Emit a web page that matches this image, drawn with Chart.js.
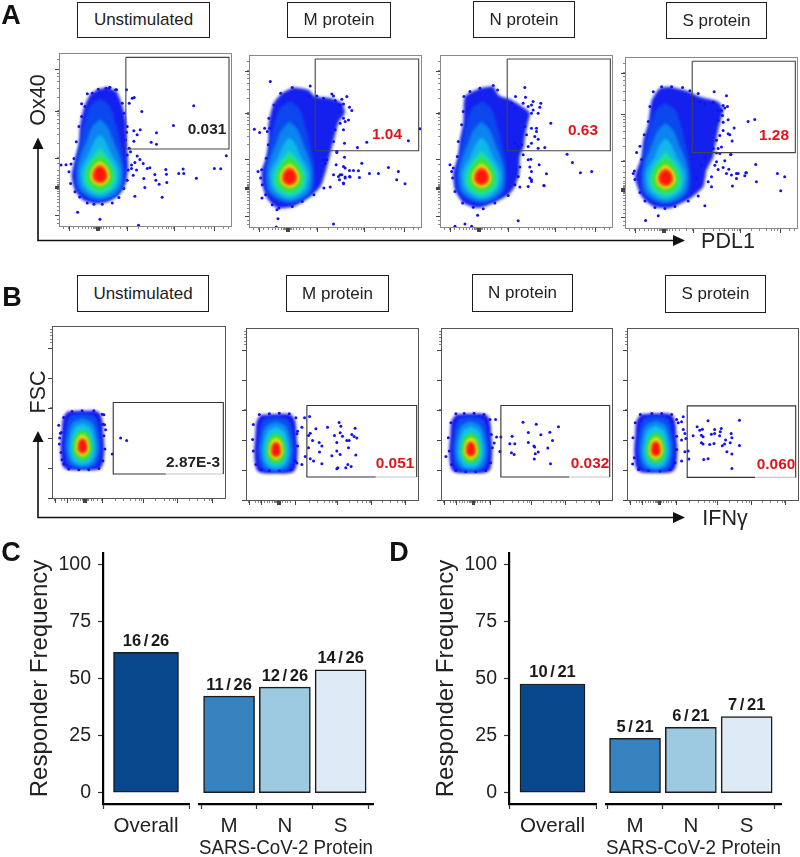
<!DOCTYPE html>
<html><head><meta charset="utf-8">
<script src="https://cdn.jsdelivr.net/npm/chart.js@4"></script>
<style>
html,body{margin:0;padding:0;background:#fff}
#page{position:relative;width:800px;height:857px;overflow:hidden;font-family:"Liberation Sans",Arial,sans-serif;color:#222;filter:blur(0.35px)}
canvas{position:absolute;display:block}
.box{position:absolute;box-sizing:border-box;border:1.5px solid #1c1c1c;display:flex;align-items:center;justify-content:center;font-size:17px;background:#fff;color:#222}
.t{position:absolute;transform:translate(-50%,-50%);white-space:nowrap}
.v{font-weight:bold;font-size:15.4px}
.red{color:#e0141a}
.let{font-weight:bold;font-size:27px;color:#111}
.ax{font-size:21.5px;color:#222}
svg{position:absolute;left:0;top:0}
</style></head>
<body><div id="page">
<svg width="800" height="857">
<g stroke="#111" stroke-width="1.6" fill="none">
<polyline points="38,148 38,240.5 674,240.5"/>
<polyline points="38,441 38,517.5 674,517.5"/>
</g>
<g fill="#111">
<polygon points="38,137.5 32.5,149 43.5,149"/><polygon points="685,240.5 673,235 673,246"/>
<polygon points="38,431 32.5,442 43.5,442"/><polygon points="685,517.5 673,512 673,523"/>
</g>
</svg>
<div class="box" style="left:77px;top:2px;width:133px;height:36px">Unstimulated</div>
<div class="box" style="left:287px;top:2px;width:104px;height:36px">M protein</div>
<div class="box" style="left:473px;top:1px;width:102px;height:37px">N protein</div>
<div class="box" style="left:666px;top:2px;width:101px;height:37px">S protein</div>
<div class="box" style="left:77px;top:275px;width:132px;height:37px">Unstimulated</div>
<div class="box" style="left:286px;top:275px;width:103px;height:37px">M protein</div>
<div class="box" style="left:472px;top:274px;width:101px;height:38px">N protein</div>
<div class="box" style="left:665px;top:275px;width:101px;height:38px">S protein</div>
<div class="t let" style="left:11px;top:15px">A</div>
<div class="t let" style="left:12px;top:297px">B</div>
<div class="t let" style="left:11px;top:552px">C</div>
<div class="t let" style="left:399px;top:552px">D</div>
<div class="t ax" style="left:38px;top:100px;transform:translate(-50%,-50%) rotate(-90deg)">Ox40</div>
<div class="t ax" style="left:38px;top:392px;transform:translate(-50%,-50%) rotate(-90deg)">FSC</div>
<div class="t ax" style="left:728px;top:241px">PDL1</div>
<div class="t ax" style="left:725px;top:518px">IFNγ</div>
</div>
<script>
// ---------- Responder frequency bars ----------
const overallCat = ['Overall'];
const proteinCats = ['M','N','S'];
const yTicksBars = [0,25,50,75,100];
const overallC = [61.5];
const proteinC = [42.3,46.2,53.8];
const overallLabelC = ['16 / 26'];
const proteinLabelC = ['11 / 26','12 / 26','14 / 26'];
const overallD = [47.6];
const proteinD = [23.8,28.6,33.3];
const overallLabelD = ['10 / 21'];
const proteinLabelD = ['5 / 21','6 / 21','7 / 21'];
const overallColor = ['#07478c'];
const proteinColors = ['#3582bf','#9ecae1','#deebf7'];

// ---------- Flow plots: ticks (channel units, 0-520) ----------
const xTicksA = [15,30,45,60,70,80,90,98,104,108,111,113,116,119,121,124,128,134,142,152,165,185,203,240,265,285,300,312,322,330,338,345,380,405,425,440,450,458,467,495,510];
const xMajorA = [30,112,114,116,118,120,203,345,467];
const yTicksA = [10,22,35,48,60,72,82,92,100,106,111,115,118,120,122,125,128,132,138,145,155,170,190,207,250,275,295,310,322,332,340,347,388,415,435,450,460,472,500];
const yMajorA = [35,116,118,120,122,124,207,347,472];
const xTicksB = [8,28,38,45,55,65,72,80,85,90,93,97,101,105,110,118,125,135,148,190,215,235,250,260,268,273,310,335,350,362,370,375,410,435,455,470,477];
const xMajorB = [8,45,93,95,97,99,101,148,273,375,477];
const yTicksB = [3,93,183,275,363,453,470,480,490,500,510];
const yMajorB = [3,93,183,275,363,453];

// ---------- Density contours, relative to the population centre ----------
const coreA = [
 {c:'#0b48ee',p:[[0,225],[28,205],[48,150],[62,90],[74,20],[66,-50],[0,-82],[-66,-50],[-74,20],[-62,90],[-48,150],[-28,205]]},
 {c:'#0c84f0',p:[[0,165],[24,140],[40,100],[60,50],[68,0],[56,-50],[0,-76],[-56,-50],[-68,0],[-60,50],[-40,100],[-24,140]]},
 {c:'#10b8ea',p:[[0,118],[16,100],[34,60],[56,20],[58,-10],[46,-44],[0,-68],[-46,-44],[-58,-10],[-56,20],[-34,60],[-16,100]]},
 {c:'#1ee0a0',p:[[0,78],[14,62],[36,32],[48,0],[40,-36],[0,-58],[-40,-36],[-48,0],[-36,32],[-14,62]]},
 {c:'#40e030',p:[[0,56],[14,46],[30,24],[38,0],[32,-28],[0,-46],[-32,-28],[-38,0],[-30,24],[-14,46]]},
 {c:'#f4ec10',p:[[0,38],[16,26],[28,2],[24,-20],[0,-34],[-24,-20],[-28,2],[-16,26]]},
 {c:'#ff8a10',p:[[0,30],[13,22],[23,2],[20,-18],[0,-29],[-20,-18],[-23,2],[-13,22]]},
 {c:'#ff1408',p:[[0,24],[12,16],[19,0],[16,-15],[0,-24],[-16,-15],[-19,0],[-12,16]]}
];
const coreB = [
 {c:'#1414f0',p:[[-45,105],[0,107],[45,105],[58,85],[62,40],[65,-10],[58,-60],[40,-70],[0,-70],[-40,-70],[-58,-60],[-65,-10],[-62,40],[-58,85]]},
 {c:'#0b4cf0',p:[[0,100],[38,90],[52,40],[55,-10],[42,-58],[0,-68],[-42,-58],[-55,-10],[-52,40],[-38,90]]},
 {c:'#0c8cf0',p:[[0,85],[30,70],[44,25],[46,-15],[32,-52],[0,-62],[-32,-52],[-46,-15],[-44,25],[-30,70]]},
 {c:'#10c4e8',p:[[0,70],[24,55],[36,15],[36,-20],[24,-46],[0,-55],[-24,-46],[-36,-20],[-36,15],[-24,55]]},
 {c:'#40e030',p:[[0,50],[18,38],[28,5],[26,-20],[16,-36],[0,-42],[-16,-36],[-26,-20],[-28,5],[-18,38]]},
 {c:'#f4ec10',p:[[0,36],[13,26],[20,2],[18,-16],[0,-30],[-18,-16],[-20,2],[-13,26]]},
 {c:'#ff1408',p:[[0,25],[10,17],[14,0],[12,-14],[0,-22],[-12,-14],[-14,0],[-10,17]]}
];

// ---------- Panel A populations ----------
const outerA1 = [[148,418],[173,405],[188,370],[201,320],[203,280],[205,230],[208,180],[201,135],[178,95],[143,75],[108,70],[73,80],[48,110],[38,155],[48,200],[61,250],[63,300],[73,350],[93,395],[118,412]];
const dotsA1 = [[203,410],[220,385],[226,387],[211,370],[249,345],[405,362],[344,303],[293,282],[244,291],[225,288],[235,276],[203,283],[277,253],[293,247],[225,256],[211,235],[503,213],[215,225],[235,212],[243,202],[228,193],[218,185],[253,190],[265,175],[273,177],[218,175],[233,170],[223,155],[255,145],[288,157],[321,172],[323,158],[373,173],[360,160],[375,160],[467,175],[486,174],[413,146],[291,140],[301,128],[324,133],[258,118],[228,92],[310,89],[56,44],[123,23],[239,5],[6,185],[21,186],[36,188],[85,398],[68,368],[173,410],[153,418],[141,415]];
const rimA1 = [[60,300],[52,255],[45,205],[30,165],[35,130],[48,105],[62,90],[85,72],[105,68],[130,68],[160,72],[180,88],[195,115],[205,140],[208,170],[205,215],[200,260],[205,300],[195,340],[190,370],[170,410],[150,415],[118,412],[100,400],[78,360],[68,330]];
const outerA2 = [[134,423],[179,415],[199,395],[245,390],[280,375],[288,345],[270,320],[255,265],[245,225],[232,175],[215,125],[184,95],[134,65],[84,60],[54,90],[39,135],[39,175],[54,215],[59,265],[59,315],[74,375],[99,405]];
const dotsA2 = [[64,440],[16,297],[32,287],[47,300],[62,300],[354,258],[326,242],[264,227],[339,195],[419,182],[449,170],[444,145],[389,164],[362,164],[329,172],[314,173],[302,173],[289,180],[274,160],[289,150],[302,155],[284,135],[269,155],[27,170],[39,90],[84,55],[87,28],[254,12],[82,3],[514,298],[479,262],[469,133]];
const rimA2 = [[184,427],[179,395],[204,397],[224,390],[249,403],[254,397],[279,387],[294,395],[302,363],[309,353],[274,370],[284,373],[259,383],[284,330],[299,325],[289,320],[274,315],[284,295],[259,295],[254,260],[287,255],[264,230],[287,213],[234,205],[262,190],[284,185],[279,160],[289,153],[304,153],[332,152],[254,160],[272,145],[284,133],[244,123],[224,205],[229,195],[225,120],[195,100],[160,80],[130,65],[90,60],[70,70],[50,100],[40,130],[35,150],[38,175],[52,210],[58,250],[55,290],[60,330],[75,370],[95,405],[130,422]];
const outerA3 = [[160,427],[178,398],[215,385],[255,360],[270,345],[265,320],[255,275],[252,245],[240,215],[238,165],[225,125],[205,100],[160,75],[115,60],[70,75],[45,115],[40,165],[55,215],[60,265],[70,315],[75,395],[120,420]];
const dotsA3 = [[255,422],[333,315],[315,242],[382,222],[398,197],[422,166],[456,170],[320,163],[298,190],[312,128],[275,145],[235,22],[113,38],[95,5],[75,12],[45,5],[30,190],[35,170]];
const rimA3 = [[173,415],[227,395],[257,393],[280,380],[303,375],[300,363],[275,370],[215,375],[250,375],[265,365],[280,355],[295,345],[275,345],[225,360],[290,300],[290,290],[275,300],[255,305],[285,275],[295,267],[260,280],[275,255],[295,240],[245,250],[265,245],[225,255],[235,245],[250,220],[265,205],[273,207],[270,183],[240,183],[275,170],[235,155],[270,150],[275,140],[313,127],[265,125],[225,130],[240,123],[205,98],[165,75],[130,58],[100,62],[68,75],[45,110],[38,150],[40,180],[52,215],[55,260],[65,310],[70,350],[72,395],[90,410],[120,420],[160,428]];
const outerA4 = [[135,430],[185,418],[225,400],[280,385],[295,360],[282,310],[272,258],[265,218],[245,178],[235,128],[195,92],[135,63],[85,68],[50,98],[30,158],[50,218],[55,268],[70,318],[80,388],[105,426]];
const dotsA4 = [[268,415],[370,325],[390,331],[328,305],[318,225],[393,195],[363,170],[340,168],[360,161],[395,143],[458,168],[480,158],[468,116],[240,70],[100,40],[62,26],[25,168],[35,231]];
const rimA4 = [[173,428],[195,418],[220,410],[305,403],[300,366],[295,373],[308,370],[290,358],[225,383],[240,378],[265,383],[280,358],[293,343],[310,330],[280,328],[295,323],[295,298],[310,288],[315,285],[322,266],[285,283],[275,268],[290,248],[280,243],[265,243],[275,230],[285,228],[318,225],[240,218],[300,206],[275,203],[270,193],[230,193],[295,186],[280,180],[312,181],[335,168],[365,170],[305,168],[320,163],[335,153],[323,130],[260,158],[250,143],[215,153],[260,128],[220,100],[190,85],[150,68],[120,62],[90,65],[60,85],[45,110],[30,150],[28,175],[50,210],[45,250],[58,285],[70,325],[75,370],[85,415],[110,430],[140,430]];

// ---------- Panel B populations ----------
const dotsB1 = [[205,183],[223,176],[180,135],[20,222],[25,198],[23,183],[155,253],[157,223],[160,208],[30,118]];
const rimB1 = [[35,245],[60,263],[90,265],[125,265],[150,255],[152,225],[155,190],[158,150],[152,115],[140,92],[110,88],[80,88],[50,90],[35,105],[27,140],[22,165],[28,200]];
const dotsB2 = [[176,250],[191,254],[168,222],[153,202],[210,217],[245,222],[280,236],[285,225],[328,219],[193,204],[188,197],[266,197],[283,205],[290,195],[318,200],[325,194],[333,189],[273,176],[303,182],[310,182],[200,182],[220,176],[228,165],[188,160],[308,160],[221,147],[273,150],[283,140],[258,136],[330,138],[178,134],[193,127],[203,120],[228,112],[168,110],[153,114],[273,97],[276,100],[300,100],[306,110],[316,104]];
const rimB2 = [[40,260],[70,262],[100,264],[130,262],[150,250],[155,210],[155,165],[148,120],[135,95],[100,92],[70,92],[45,95],[30,110],[22,150],[20,185],[22,230]];
const dotsB3 = [[165,245],[168,192],[181,192],[161,174],[178,149],[15,134],[208,172],[223,172],[215,195],[248,237],[288,231],[264,206],[302,199],[329,207],[355,223],[264,176],[337,182],[323,159],[281,165],[283,162],[294,147],[285,142],[213,145],[221,140],[282,126],[331,112]];
const rimB3 = [[45,262],[70,263],[100,264],[130,260],[148,245],[152,200],[155,160],[150,115],[135,92],[105,88],[75,88],[45,92],[32,110],[25,150],[22,190],[30,235]];
const dotsB4 = [[170,253],[155,235],[165,238],[170,215],[175,203],[165,183],[178,188],[175,148],[185,150],[187,126],[165,120],[17,111],[212,223],[220,213],[228,216],[245,241],[340,243],[265,215],[285,218],[282,208],[265,203],[255,201],[200,196],[225,198],[230,193],[280,196],[315,203],[317,190],[298,183],[225,175],[230,171],[250,170],[263,173],[295,171],[288,166],[312,175],[340,167],[302,148],[317,141],[245,127],[232,125],[317,98]];
const rimB4 = [[40,260],[75,263],[105,263],[135,260],[150,245],[150,195],[150,155],[145,115],[130,95],[100,90],[65,92],[35,95],[22,130],[18,190],[25,235]];

const page = document.getElementById('page');
function addCanvas(l,t,w,h){const c=document.createElement('canvas');c.width=w;c.height=h;c.style.left=l+'px';c.style.top=t+'px';c.style.width=w+'px';c.style.height=h+'px';page.appendChild(c);return c;}
function pts(a){return a.map(p=>({x:p[0],y:p[1]}));}
function closed(a,c){const s=a.map(p=>({x:c[0]+p[0],y:c[1]+p[1]}));s.push(s[0]);return s;}

const blurFills = {
  id:'blurFills',
  beforeDraw(ch){ch.ctx.filter='blur(1.5px)';},
  beforeDatasetsDraw(ch){ch.ctx.filter='none';}
};

function flowPanel(o){
  const [l,t,r,b]=o.frame;
  const c=addCanvas(l-10,t-3,r-l+13,b-t+12);
  const ds=[];
  ds.push({type:'line',data:o.gateOpen?pts(o.gate):closed(o.gate,[0,0]),borderColor:o.gateColor,borderWidth:1.1,pointRadius:0,fill:false,tension:0,order:1});
  if(o.gateLight) ds.push({type:'line',data:pts(o.gateLight),borderColor:'#c8c8c8',borderWidth:1.1,pointRadius:0,fill:false,tension:0,order:1});
  ds.push({type:'scatter',data:pts(o.dots.concat(o.rim)),backgroundColor:'#1212ee',borderWidth:0,pointRadius:1.5,pointHoverRadius:1.5,order:2});
  o.levels.forEach((lv,i)=>{
    ds.push({type:'line',data:closed(lv.p,o.center),borderWidth:0,pointRadius:0,fill:'shape',backgroundColor:lv.c,tension:0.35,order:50-i});
  });
  if(o.outer) ds.push({type:'line',data:closed(o.outer,[0,0]),borderWidth:0,pointRadius:0,fill:'shape',backgroundColor:'#1420ee',tension:0.2,order:60});
  const frameTicks={id:'frameTicks',afterDraw(ch){
    const x=ch.ctx,a=ch.chartArea;
    x.save();x.strokeStyle=o.frameColor;x.lineWidth=1;x.strokeRect(a.left+.5,a.top+.5,a.right-a.left-1,a.bottom-a.top-1);
    x.strokeStyle='#444';x.lineWidth=1;x.beginPath();
    o.xMajor.forEach(v=>{const p=Math.round(ch.scales.x.getPixelForValue(v))+.5;x.moveTo(p,a.bottom);x.lineTo(p,a.bottom+4);});
    o.yMajor.forEach(v=>{const p=Math.round(ch.scales.y.getPixelForValue(v))+.5;x.moveTo(a.left,p);x.lineTo(a.left-4,p);});
    x.stroke();x.restore();
  }};
  const axis=(ticks,dim)=>({type:'linear',min:0,max:520,display:true,
    afterBuildTicks(s){s.ticks=ticks.map(v=>({value:v}));},
    afterFit(s){s[dim]=dim==='height'?9:10;},
    ticks:{display:false,autoSkip:false},border:{display:false,z:1},
    grid:{display:true,drawOnChartArea:false,drawTicks:true,tickLength:2,tickColor:'#888',tickWidth:1,z:1}});
  new Chart(c,{data:{datasets:ds},plugins:[blurFills,frameTicks],options:{responsive:false,animation:false,
    layout:{autoPadding:false,padding:{top:3,right:3,left:0,bottom:0}},
    plugins:{legend:{display:false},tooltip:{enabled:false},filler:{drawTime:'beforeDatasetsDraw',propagate:false}},
    scales:{x:axis(o.xTicks,'height'),y:axis(o.yTicks,'width')}}});
  const v=document.createElement('div');v.className='t v'+(o.red?' red':'');v.textContent=o.label;
  v.style.left=o.labelAt[0]+'px';v.style.top=o.labelAt[1]+'px';page.appendChild(v);
}
const aCommon={levels:coreA,gateColor:'#444',frameColor:'#888',xTicks:xTicksA,yTicks:yTicksA,xMajor:xMajorA,yMajor:yMajorA};
flowPanel({...aCommon,frame:[59,53,232,227],center:[123,158],outer:outerA1,dots:dotsA1,rim:rimA1,gate:[[201,507],[201,233],[511,233],[511,507]],label:'0.031',labelAt:[207,129]});
flowPanel({...aCommon,frame:[249,55,422,228],center:[122,155],outer:outerA2,dots:dotsA2,rim:rimA2,gate:[[199,508],[199,232],[510,232],[510,508]],label:'1.04',labelAt:[387,134],red:true});
flowPanel({...aCommon,frame:[440,55,613,228],center:[125,155],outer:outerA3,dots:dotsA3,rim:rimA3,gate:[[202,508],[202,232],[512,232],[512,508]],label:'0.63',labelAt:[583,130],red:true});
flowPanel({...aCommon,frame:[625,57,798,229],center:[122,156],outer:outerA4,dots:dotsA4,rim:rimA4,gate:[[202,507],[202,231],[512,231],[512,507]],label:'1.28',labelAt:[774,135],red:true});

const bCommon={levels:coreB,gateColor:'#333',frameColor:'#555',xTicks:xTicksB,yTicks:yTicksB,xMajor:xMajorB,yMajor:yMajorB,gateOpen:true};
// the lower right edge of these gates is faint under the label
function flowB(o){
  const [x0,x1,y0,y1,mid]=o.g;
  flowPanel({...bCommon,...o,gate:[[mid,y0],[x0,y0],[x0,y1],[x1,y1],[x1,y0]],gateLight:[[mid,y0],[x1,y0]]});
}
flowB({frame:[52,326,226,499],center:[91,158],dots:dotsB1,rim:rimB1,g:[183,512,75,290,340],label:'2.87E-3',labelAt:[193,462]});
flowB({frame:[246,328,419,501],center:[90,154],dots:dotsB2,rim:rimB2,g:[183,513,72,287,390],label:'0.051',labelAt:[395,463],red:true});
flowB({frame:[441,328,613,501],center:[90,155],dots:dotsB3,rim:rimB3,g:[181,510,72,287,388],label:'0.032',labelAt:[590,463],red:true});
flowB({frame:[627,328,799,501],center:[87,156],dots:dotsB4,rim:rimB4,g:[182,510,71,286,387],label:'0.060',labelAt:[776,464],red:true});

// ---------- Bars ----------
function barLabels(labels){return {id:'barLabels',afterDatasetsDraw(ch){
  const x=ch.ctx;x.save();x.font='bold 16.5px "Liberation Sans",Arial,sans-serif';x.wordSpacing='-2px';x.fillStyle='#1a1a1a';x.textAlign='center';x.textBaseline='alphabetic';
  ch.getDatasetMeta(0).data.forEach((el,i)=>x.fillText(labels[i],el.x,el.y-6.5));x.restore();}};}
const fontTick={family:'"Liberation Sans",Arial,sans-serif',size:20.5};
function noInset(s){s.paddingTop=0;s.paddingBottom=0;s.paddingLeft=0;s.paddingRight=0;}
function yScale(show,titlePad){return {type:'linear',min:-5,max:105,display:show,
  afterBuildTicks(s){s.ticks=yTicksBars.map(v=>({value:v}));},
  afterFit(s){s.width=show?83:0;noInset(s);},
  ticks:{font:{...fontTick,size:19.5},color:'#222',padding:7,autoSkip:false},
  border:{display:true,color:'#000',width:2.2},
  grid:{drawOnChartArea:false,tickLength:5,tickColor:'#333',tickWidth:1.2},
  title:{display:true,text:'Responder Frequency',font:{...fontTick,size:24},color:'#222',padding:{top:titlePad,bottom:0},align:'center'}};}
function xCommon(){return {afterFit(s){s.height=53;noInset(s);},
  ticks:{font:fontTick,color:'#222',padding:5,autoSkip:false,maxRotation:0},
  border:{display:true,color:'#000',width:2.2},
  grid:{drawOnChartArea:false,tickLength:5,tickColor:'#333',tickWidth:1.2}};}
function overallChart(l,w,vals,labs,titlePad){
  const c=addCanvas(l,545,w,312);
  new Chart(c,{type:'bar',data:{labels:overallCat,datasets:[{data:vals,backgroundColor:overallColor,borderColor:'#1c1c1c',borderWidth:1.5,barThickness:65,borderSkipped:false}]},
    plugins:[barLabels(labs)],
    options:{responsive:false,animation:false,layout:{autoPadding:false,padding:{top:8,right:1,left:0,bottom:0}},
      plugins:{legend:{display:false},tooltip:{enabled:false}},
      scales:{x:{...xCommon(),type:'category'},y:yScale(true,titlePad)}}});
}
function proteinChart(l,w,pl,pr,vals,labs,xmin,xmax){
  const c=addCanvas(l,545,w,312);
  new Chart(c,{type:'bar',data:{labels:proteinCats,datasets:[{data:vals.map((v,i)=>({x:i+1,y:v})),backgroundColor:proteinColors,borderColor:'#1c1c1c',borderWidth:1.5,barThickness:51,borderSkipped:false}]},
    plugins:[barLabels(labs)],
    options:{responsive:false,animation:false,layout:{autoPadding:false,padding:{top:8,right:pr,left:pl,bottom:0}},
      plugins:{legend:{display:false},tooltip:{enabled:false}},
      scales:{x:{...xCommon(),type:'linear',min:xmin,max:xmax,offset:false,
          afterBuildTicks(s){s.ticks=proteinCats.map((n,i)=>({value:i+1}));},
          ticks:{...xCommon().ticks,callback:v=>proteinCats[v-1]},
          title:{display:true,text:'SARS-CoV-2 Protein',font:{...fontTick,size:20,lineHeight:0.85},color:'#222',padding:{top:0,bottom:0}}},
        y:{...yScale(false,0),display:false,title:{display:false}}}}});
}
overallChart(20,170,overallC,overallLabelC,6);
proteinChart(185,210,14,22,proteinC,proteinLabelC,0.461,3.58);
overallChart(426,171,overallD,overallLabelD,6);
proteinChart(590,210,16,19,proteinD,proteinLabelD,0.48,3.615);
</script>
</body></html>
